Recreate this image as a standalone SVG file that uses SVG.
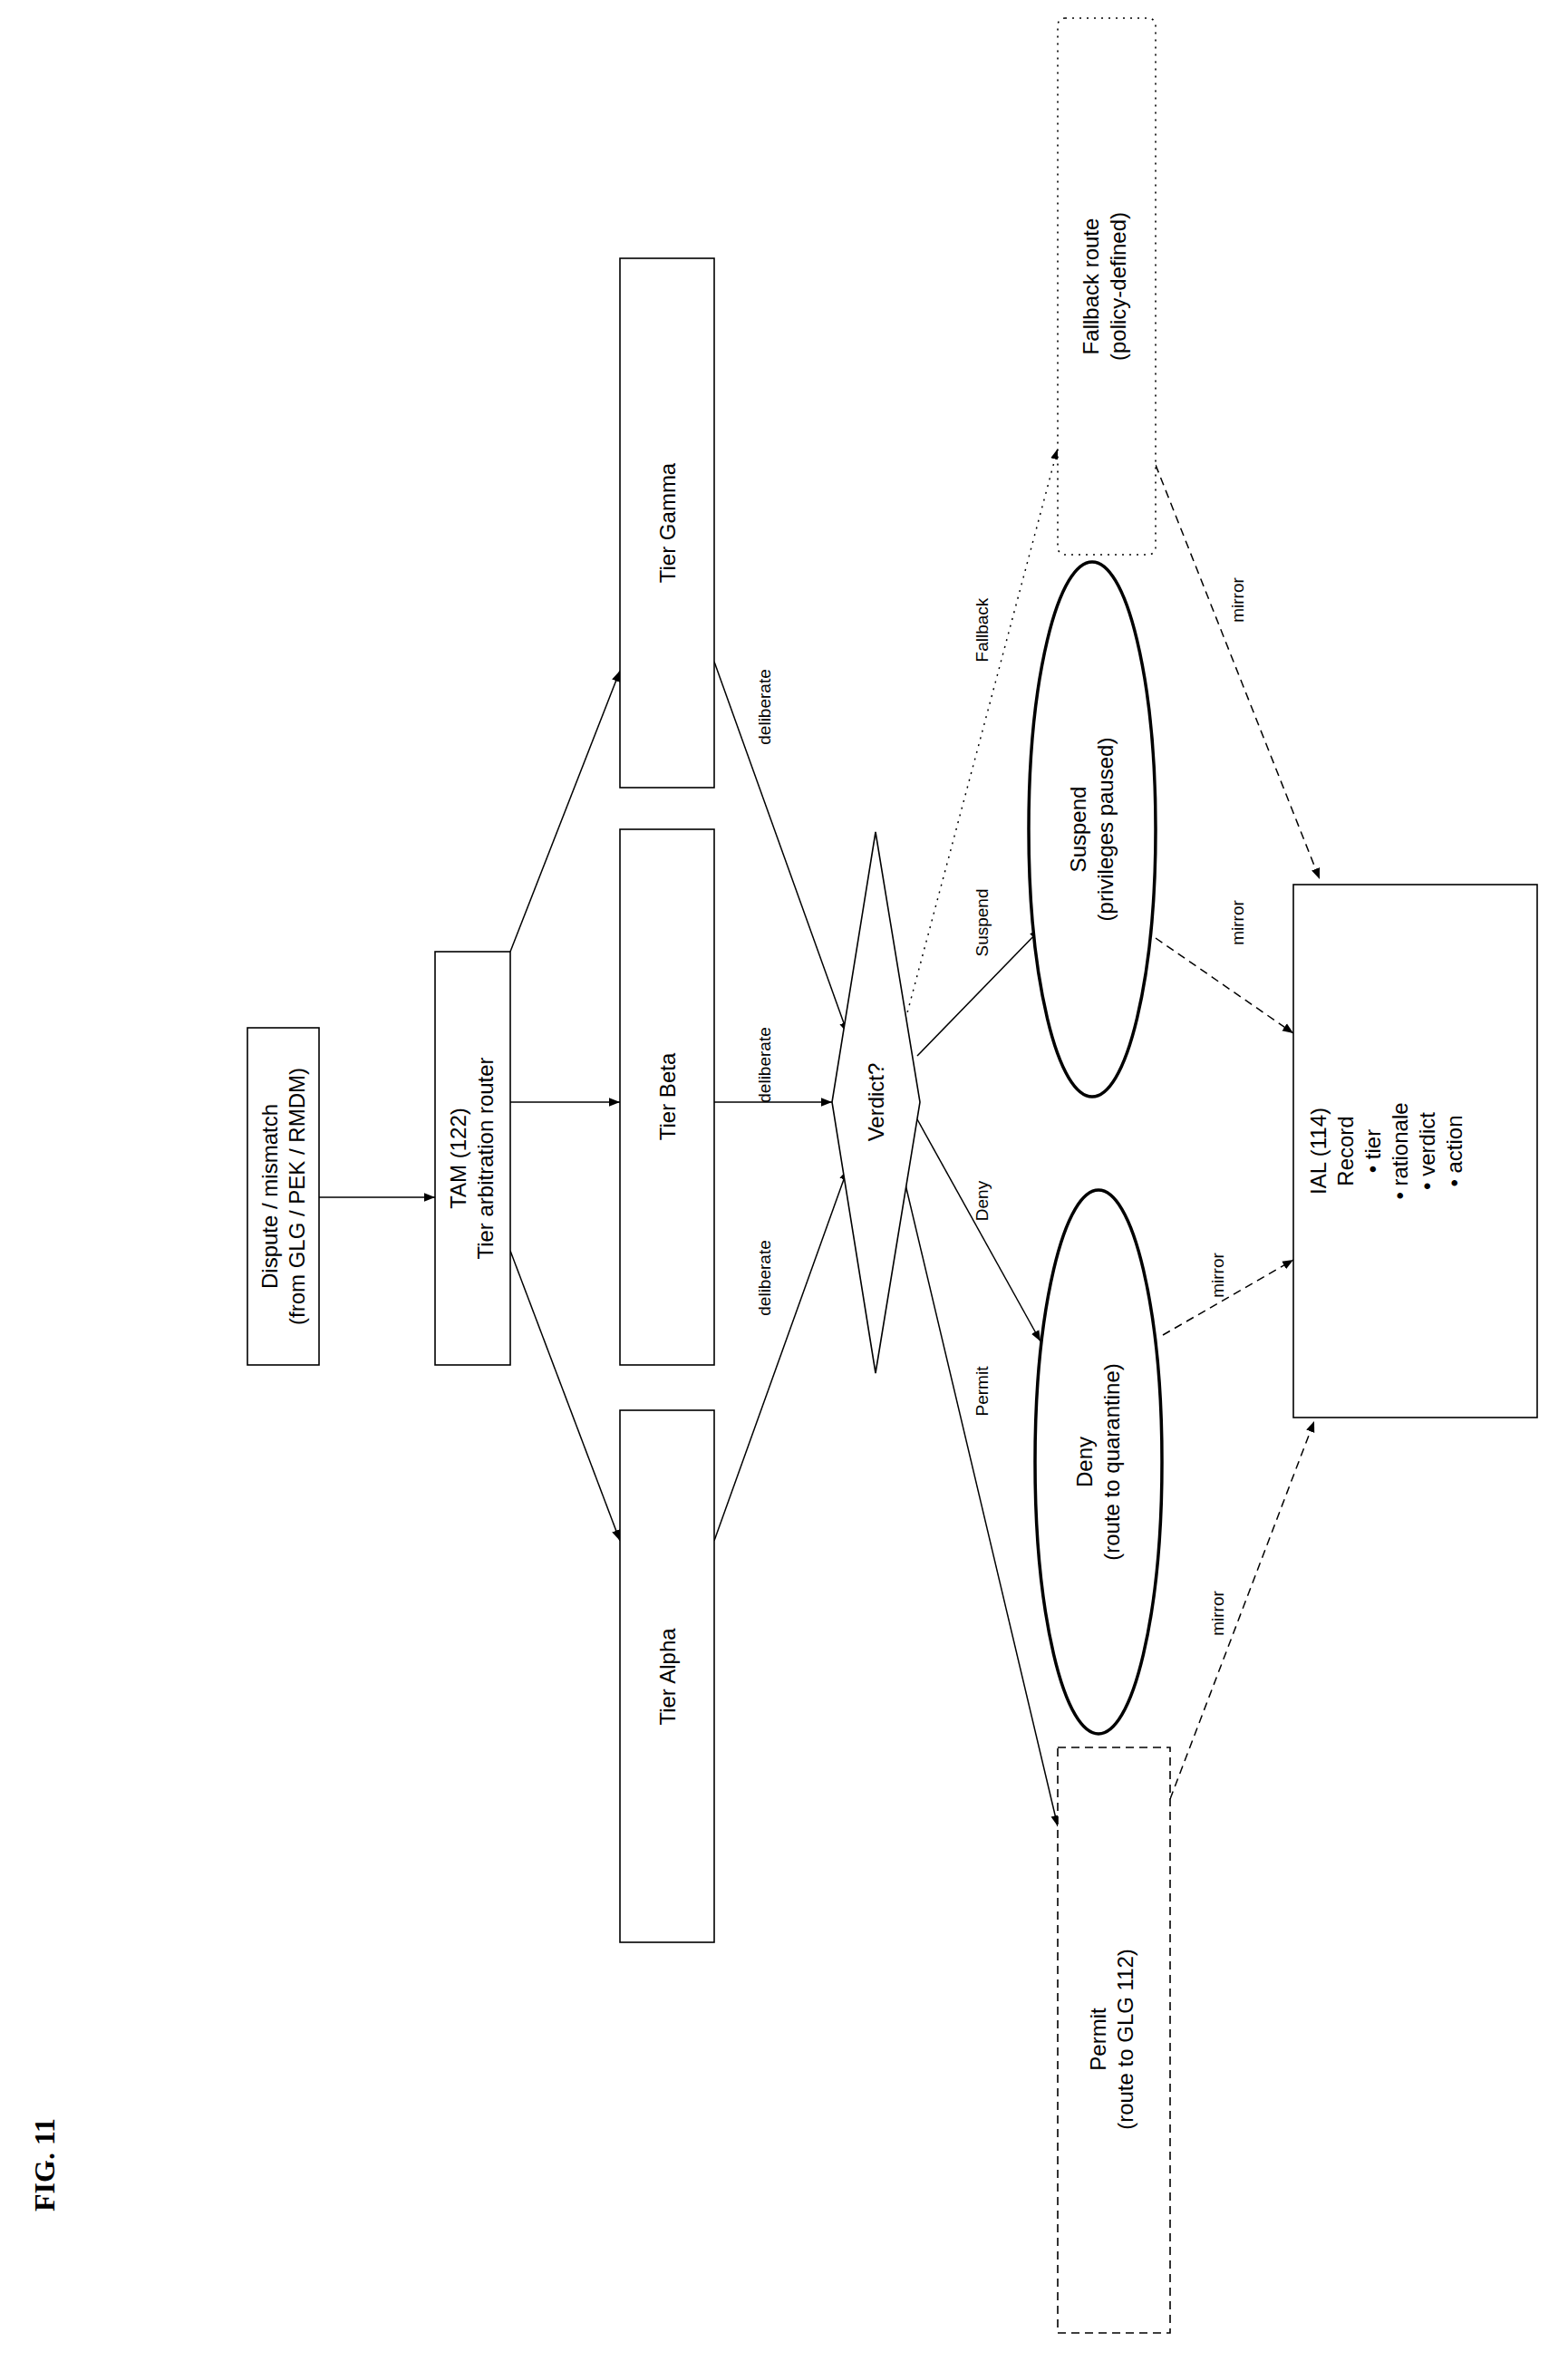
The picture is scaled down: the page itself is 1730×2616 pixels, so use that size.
<svg xmlns="http://www.w3.org/2000/svg" width="1730" height="2616" viewBox="0 0 1730 2616">
<style>
text{font-family:"Liberation Sans",Arial,sans-serif;fill:#000}
.n{font-size:24px;text-anchor:middle}
.l{font-size:19px;text-anchor:middle}
.b{fill:#fff;stroke:#000;stroke-width:1.6}
.e{fill:#fff;stroke:#000;stroke-width:3.5}
.dash{stroke-dasharray:9 6}
.dot{stroke-dasharray:2 6}
.c{fill:none;stroke:#000;stroke-width:1.5}
</style>
<defs>
<marker id="a" viewBox="0 0 10 10" refX="10" refY="5" markerWidth="12" markerHeight="12" markerUnits="userSpaceOnUse" orient="auto"><path d="M0,1L10,5L0,9z" fill="#000"/></marker>
</defs>
<rect width="1730" height="2616" fill="#fff"/>
<text transform="translate(60,2440) rotate(-90)" style="font-family:'Liberation Serif',serif;font-weight:bold;font-size:32px">FIG. 11</text>
<g id="connectors">
<line class="c" x1="352" y1="1321" x2="480" y2="1321" marker-end="url(#a)"/>
<line class="c" x1="563" y1="1380" x2="684" y2="1700" marker-end="url(#a)"/>
<line class="c" x1="563" y1="1216" x2="684" y2="1216" marker-end="url(#a)"/>
<line class="c" x1="563" y1="1050" x2="684" y2="740" marker-end="url(#a)"/>
<line class="c" x1="788" y1="1700" x2="935" y2="1290" marker-end="url(#a)"/>
<line class="c" x1="788" y1="1216" x2="918" y2="1216" marker-end="url(#a)"/>
<line class="c" x1="788" y1="730" x2="935" y2="1140" marker-end="url(#a)"/>
<line class="c" x1="995" y1="1290" x2="1167" y2="2015" marker-end="url(#a)"/>
<line class="c" x1="1012" y1="1235" x2="1148" y2="1480" marker-end="url(#a)"/>
<line class="c" x1="1012" y1="1165" x2="1148" y2="1025" marker-end="url(#a)"/>
<line class="c dot" x1="995" y1="1140" x2="1167" y2="495" marker-end="url(#a)"/>
<line class="c dash" x1="1275" y1="1035" x2="1427" y2="1140" marker-end="url(#a)"/>
<line class="c dash" x1="1283" y1="1473" x2="1427" y2="1390" marker-end="url(#a)"/>
<line class="c dash" x1="1291" y1="1985" x2="1450" y2="1568" marker-end="url(#a)"/>
<line class="c dash" x1="1275" y1="513" x2="1456" y2="970" marker-end="url(#a)"/>
<text class="l" transform="translate(850,1410) rotate(-90)">deliberate</text>
<text class="l" transform="translate(850,1175) rotate(-90)">deliberate</text>
<text class="l" transform="translate(850,780) rotate(-90)">deliberate</text>
<text class="l" transform="translate(1090,1535) rotate(-90)">Permit</text>
<text class="l" transform="translate(1090,1325) rotate(-90)">Deny</text>
<text class="l" transform="translate(1090,1018) rotate(-90)">Suspend</text>
<text class="l" transform="translate(1090,695) rotate(-90)">Fallback</text>
<text class="l" transform="translate(1372,1018) rotate(-90)">mirror</text>
<text class="l" transform="translate(1350,1407) rotate(-90)">mirror</text>
<text class="l" transform="translate(1350,1780) rotate(-90)">mirror</text>
<text class="l" transform="translate(1372,662) rotate(-90)">mirror</text>
</g>
<g id="dispute"><rect class="b" x="273" y="1134" width="79" height="372"/>
<text class="n" transform="translate(306,1320) rotate(-90)">Dispute / mismatch</text>
<text class="n" transform="translate(336,1320) rotate(-90)">(from GLG / PEK / RMDM)</text></g>
<g id="tam"><rect class="b" x="480" y="1050" width="83" height="456"/>
<text class="n" transform="translate(514,1278) rotate(-90)">TAM (122)</text>
<text class="n" transform="translate(544,1278) rotate(-90)">Tier arbitration router</text></g>
<g id="alpha"><rect class="b" x="684" y="1556" width="104" height="587"/>
<text class="n" transform="translate(745,1850) rotate(-90)">Tier Alpha</text></g>
<g id="beta"><rect class="b" x="684" y="915" width="104" height="591"/>
<text class="n" transform="translate(745,1210) rotate(-90)">Tier Beta</text></g>
<g id="gamma"><rect class="b" x="684" y="285" width="104" height="584"/>
<text class="n" transform="translate(745,577) rotate(-90)">Tier Gamma</text></g>
<g id="verdict"><polygon class="b" points="966,918 1015,1216 966,1515 918,1216"/>
<text class="n" transform="translate(975,1216) rotate(-90)">Verdict?</text></g>
<g id="deny"><ellipse class="e" cx="1212" cy="1613" rx="70" ry="300"/>
<text class="n" transform="translate(1205,1613) rotate(-90)">Deny</text>
<text class="n" transform="translate(1235,1613) rotate(-90)">(route to quarantine)</text></g>
<g id="suspend"><ellipse class="e" cx="1205" cy="915" rx="70" ry="295"/>
<text class="n" transform="translate(1198,915) rotate(-90)">Suspend</text>
<text class="n" transform="translate(1228,915) rotate(-90)">(privileges paused)</text></g>
<g id="permit"><rect class="b dash" x="1167" y="1928" width="124" height="646"/>
<text class="n" transform="translate(1220,2250) rotate(-90)">Permit</text>
<text class="n" transform="translate(1250,2250) rotate(-90)">(route to GLG 112)</text></g>
<g id="fallback"><rect class="b dot" x="1167" y="20" width="108" height="592" rx="8"/>
<text class="n" transform="translate(1212,316) rotate(-90)">Fallback route</text>
<text class="n" transform="translate(1242,316) rotate(-90)">(policy-defined)</text></g>
<g id="ial"><rect class="b" x="1427" y="976" width="269" height="588"/>
<text class="n" transform="translate(1463,1270) rotate(-90)">IAL (114)</text>
<text class="n" transform="translate(1493,1270) rotate(-90)">Record</text>
<text class="n" transform="translate(1523,1270) rotate(-90)">• tier</text>
<text class="n" transform="translate(1553,1270) rotate(-90)">• rationale</text>
<text class="n" transform="translate(1583,1270) rotate(-90)">• verdict</text>
<text class="n" transform="translate(1613,1270) rotate(-90)">• action</text></g>
</svg>
